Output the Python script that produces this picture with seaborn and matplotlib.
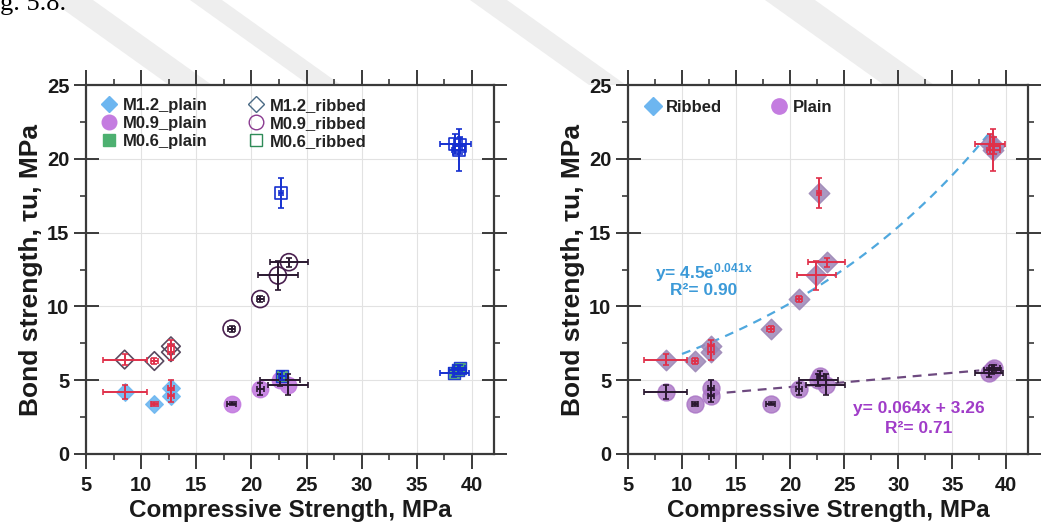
import numpy as np
import pandas as pd
import matplotlib
matplotlib.use("Agg")
import matplotlib.pyplot as plt
from matplotlib.lines import Line2D
from matplotlib.patches import Polygon
import seaborn as sns

sns.set_theme(style="white")
plt.rcParams['font.family'] = ['Liberation Sans', 'DejaVu Sans']
plt.rcParams['mathtext.default'] = 'regular'

# ---------------- data ----------------
# M1.2 mixes
m12_x = [8.5, 11.2, 12.7, 12.7]
m12_xerr = [2.0, 0.3, 0.3, 0.3]
m12_plain = [4.2, 3.4, 4.5, 3.95]
m12_plain_err = [0.5, 0.15, 0.5, 0.4]
m12_ribbed = [6.4, 6.3, 7.3, 6.9]
m12_ribbed_err = [0.4, 0.2, 0.4, 0.5]

# M0.9 mixes
m09_x_plain = [18.2, 20.8, 22.6, 23.3]
m09_xerr_plain = [0.4, 0.3, 1.8, 1.8]
m09_plain = [3.4, 4.4, 5.0, 4.7]
m09_plain_err = [0.1, 0.4, 0.4, 0.7]
m09_x_ribbed = [18.2, 20.8, 22.4, 23.4]
m09_xerr_ribbed = [0.3, 0.3, 1.8, 1.7]
m09_ribbed = [8.5, 10.5, 12.1, 13.0]
m09_ribbed_err = [0.2, 0.2, 1.0, 0.3]

# M0.6 mixes
m06_x_plain = [22.8, 38.4, 38.7, 38.9]
m06_xerr_plain = [0.3, 1.3, 0.8, 0.5]
m06_plain = [5.3, 5.5, 5.7, 5.8]
m06_plain_err = [0.3, 0.3, 0.3, 0.2]
m06_x_ribbed = [22.7, 38.5, 38.8, 38.9]
m06_xerr_ribbed = [0.2, 1.4, 0.6, 0.5]
m06_ribbed = [17.7, 21.0, 20.6, 20.9]
m06_ribbed_err = [1.0, 0.7, 1.4, 0.6]

# fitted trend lines (from the equations printed on the chart)
exp_a, exp_b = 4.5, 0.041
exp_range = [10.0, 38.7]
lin_m, lin_c = 0.064, 3.26
lin_range = [12.7, 37.5]

x_ticks = [5, 10, 15, 20, 25, 30, 35, 40]
y_ticks = [0, 5, 10, 15, 20, 25]

# ---------------- style ----------------
C_BLUE = '#6DB6F0'
C_PURP = '#C47CE0'
C_GREEN = '#4DB070'
C_RED = '#E0304A'
C_BLK = '#2A1830'
C_DBLUE = '#1530D0'

fig = plt.figure(figsize=(10.44, 5.30), dpi=100)
fig.patch.set_facecolor('white')

# faint background watermark stripes (figure pixel coords, origin top-left)
W, H = 1044, 530
stripes = [
    [(50, 0), (93, 0), (212, 85), (169, 85)],
    [(190, 0), (222, 0), (341, 85), (309, 85)],
    [(470, 0), (507, 0), (626, 85), (589, 85)],
    [(765, 0), (815, 0), (934, 85), (884, 85)],
]
for pts in stripes:
    fig.patches.append(Polygon([(x / W, 1 - y / H) for x, y in pts], closed=True,
                               transform=fig.transFigure, facecolor='#EEEEEE',
                               edgecolor='none', zorder=-5))

ax1 = fig.add_axes([0.0824, 0.1434, 0.3908, 0.696])
ax2 = fig.add_axes([0.6015, 0.1434, 0.3831, 0.696])

fig.text(-0.021, 0.981, "Fig. 5.8.", family='Liberation Serif', fontsize=19,
         va='baseline', ha='left', color='black')


def style_axes(ax):
    ax.set_xlim(5, 42)
    ax.set_ylim(0, 25)
    ax.set_xticks(x_ticks)
    ax.set_yticks(y_ticks)
    ax.set_xticks(np.arange(7.5, 42, 5), minor=True)
    ax.set_yticks(np.arange(2.5, 25, 5), minor=True)
    ax.grid(True, which='major', color='#E2E2E2', lw=0.8)
    ax.set_axisbelow(True)
    for s in ax.spines.values():
        s.set_color('#3A3A3A')
        s.set_linewidth(1.6)
        s.set_visible(True)
    ax.tick_params(which='major', direction='out', width=1.4,
                   colors='#3A3A3A', top=True, right=True, bottom=True, left=True,
                   labelsize=14.5, labelcolor='#1a1a1a')
    ax.tick_params(which='minor', direction='out', length=4.5, width=1.2,
                   colors='#3A3A3A', top=True, right=True, bottom=True, left=True)
    ax.tick_params(axis='x', which='major', length=11, pad=5)
    ax.tick_params(axis='y', which='major', direction='inout', length=18, pad=3)
    for lab in ax.get_xticklabels() + ax.get_yticklabels():
        lab.set_fontweight('bold')
    ax.set_xlabel("Compressive Strength, MPa", fontsize=17.5, fontweight='bold',
                  color='#1a1a1a', labelpad=3)
    ax.set_ylabel("Bond strength, τu, MPa", fontsize=19, fontweight='bold',
                  color='#1a1a1a', labelpad=3)


def ebar(ax, x, y, xerr, yerr, color, z=3):
    ax.errorbar(x, y, xerr=xerr, yerr=yerr, fmt='none', ecolor=color,
                elinewidth=1.4, capsize=2.5, capthick=1.2, zorder=z)


def scat(ax, x, y, marker, size, face, edge, label, alpha=1.0, lw=1.0, z=2):
    df = pd.DataFrame({'x': x, 'y': y})
    sns.scatterplot(data=df, x='x', y='y', ax=ax, marker=marker, s=size,
                    color=face, edgecolor=edge, linewidth=lw, alpha=alpha,
                    label=label, zorder=z, legend=False)


# ---------------- left panel ----------------
scat(ax1, m12_x, m12_plain, 'D', 80, C_BLUE, C_BLUE, 'M1.2_plain', 0.9)
scat(ax1, m09_x_plain, m09_plain, 'o', 140, C_PURP, C_PURP, 'M0.9_plain', 0.9)
scat(ax1, m06_x_plain, m06_plain, 's', 80, C_GREEN, C_DBLUE, 'M0.6_plain', 0.9)
scat(ax1, m12_x, m12_ribbed, 'D', 90, 'none', '#5A4A60', 'M1.2_ribbed', 1, 1.2)
scat(ax1, m09_x_ribbed, m09_ribbed, 'o', 150, 'none', '#4A2050', 'M0.9_ribbed', 1, 1.2)
scat(ax1, m06_x_ribbed, m06_ribbed, 's', 80, 'none', C_DBLUE, 'M0.6_ribbed', 1, 1.2)

ebar(ax1, m12_x, m12_plain, m12_xerr, m12_plain_err, C_RED)
ebar(ax1, m12_x, m12_ribbed, m12_xerr, m12_ribbed_err, C_RED)
ebar(ax1, m09_x_plain, m09_plain, m09_xerr_plain, m09_plain_err, C_BLK)
ebar(ax1, m09_x_ribbed, m09_ribbed, m09_xerr_ribbed, m09_ribbed_err, C_BLK)
ebar(ax1, m06_x_plain, m06_plain, m06_xerr_plain, m06_plain_err, C_DBLUE)
ebar(ax1, m06_x_ribbed, m06_ribbed, m06_xerr_ribbed, m06_ribbed_err, C_DBLUE)

handles1 = [
    Line2D([], [], marker='D', ls='none', ms=8.5, mfc=C_BLUE, mec=C_BLUE),
    Line2D([], [], marker='o', ls='none', ms=10.5, mfc=C_PURP, mec=C_PURP),
    Line2D([], [], marker='s', ls='none', ms=8.5, mfc=C_GREEN, mec=C_GREEN),
    Line2D([], [], marker='D', ls='none', ms=8.5, mfc='none', mec='#4A6A85', mew=1.0),
    Line2D([], [], marker='o', ls='none', ms=10.5, mfc='none', mec='#8A3A90', mew=1.0),
    Line2D([], [], marker='s', ls='none', ms=8.5, mfc='none', mec='#2E8B57', mew=1.0),
]
labels1 = ['M1.2_plain', 'M0.9_plain', 'M0.6_plain',
           'M1.2_ribbed', 'M0.9_ribbed', 'M0.6_ribbed']
leg1 = ax1.legend(handles1, labels1, ncol=2, loc='upper left', frameon=False,
                  fontsize=12, handletextpad=0.25, columnspacing=2.3,
                  labelspacing=0.2, borderaxespad=0.35, handlelength=1.2,
                  bbox_to_anchor=(0.0, 1.0))
for t in leg1.get_texts():
    t.set_fontweight('semibold')
    t.set_color('#222222')
style_axes(ax1)

# ---------------- right panel ----------------
rib_x = m12_x + m09_x_ribbed + m06_x_ribbed
rib_y = m12_ribbed + m09_ribbed + m06_ribbed
rib_xerr = m12_xerr + m09_xerr_ribbed + m06_xerr_ribbed
rib_yerr = m12_ribbed_err + m09_ribbed_err + m06_ribbed_err
pl_x = m12_x + m09_x_plain + m06_x_plain
pl_y = m12_plain + m09_plain + m06_plain
pl_xerr = m12_xerr + m09_xerr_plain + m06_xerr_plain
pl_yerr = m12_plain_err + m09_plain_err + m06_plain_err

ex = np.linspace(exp_range[0], exp_range[1], 100)
lx = np.linspace(lin_range[0], lin_range[1], 100)
sns.lineplot(x=ex, y=exp_a * np.exp(exp_b * ex), ax=ax2, color='#4FA8DE',
             lw=1.6, zorder=1.5)
ax2.lines[-1].set_linestyle((0, (4, 3)))
sns.lineplot(x=lx, y=lin_m * lx + lin_c, ax=ax2, color='#6E4A80',
             lw=1.6, zorder=1.5)
ax2.lines[-1].set_linestyle((0, (4, 3)))

scat(ax2, rib_x, rib_y, 'D', 110, '#9C86B6', '#9C86B6', 'Ribbed', 0.85)
scat(ax2, pl_x, pl_y, 'o', 150, '#A872C4', '#A872C4', 'Plain', 0.8)
ebar(ax2, rib_x, rib_y, rib_xerr, rib_yerr, C_RED)
ebar(ax2, pl_x, pl_y, pl_xerr, pl_yerr, C_BLK)

handles2 = [
    Line2D([], [], marker='D', ls='none', ms=9, mfc=C_BLUE, mec=C_BLUE),
    Line2D([], [], marker='o', ls='none', ms=11, mfc=C_PURP, mec=C_PURP),
]
leg2 = ax2.legend(handles2, ['Ribbed', 'Plain'], ncol=2, loc='upper left',
                  frameon=False, fontsize=12, handletextpad=0.2,
                  columnspacing=2.8, handlelength=1.2, borderaxespad=0.5)
for t in leg2.get_texts():
    t.set_fontweight('bold')
    t.set_color('#222222')

ax2.text(12.0, 12.3, r"y= 4.5e$^{0.041x}$", color='#3C9AD8', fontsize=12.5,
         fontweight='bold', ha='center', va='center')
ax2.text(12.0, 11.05, "R²= 0.90", color='#3C9AD8', fontsize=12.5,
         fontweight='bold', ha='center', va='center')
ax2.text(31.9, 3.1, "y= 0.064x + 3.26", color='#A03CC8', fontsize=12.5,
         fontweight='bold', ha='center', va='center')
ax2.text(31.9, 1.75, "R²= 0.71", color='#A03CC8', fontsize=12.5,
         fontweight='bold', ha='center', va='center')
style_axes(ax2)

fig.savefig("out.png", dpi=100)
